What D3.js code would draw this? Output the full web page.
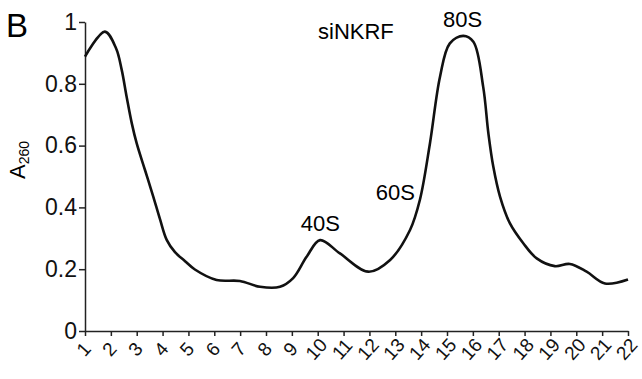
<!DOCTYPE html>
<html>
<head>
<meta charset="utf-8">
<script src="https://cdn.jsdelivr.net/npm/d3@7"></script>
<style>
  body { margin: 0; background: #fff; overflow: hidden; }
  svg { display: block; font-family: "Liberation Sans", Arial, sans-serif; }
  .axis path, .axis line { stroke: #222; stroke-width: 1.5; }
  .axis text { font-size: 23px; fill: #111; }
</style>
</head>
<body>
<div id="chart"></div>
<script>
// fraction number along the gradient and the A260 reading there
const fractions = [1, 1.77, 2.2, 2.42, 2.61, 2.81, 3.0, 3.32, 3.64, 3.9, 4.16, 4.48, 4.87, 5.25,
  6.09, 6.99, 7.77, 8.54, 9.05, 9.57, 10.09, 10.86, 11.96, 12.8, 13.57, 13.95, 14.34, 14.73,
  15.11, 15.63, 16.02, 16.4, 16.6, 16.79, 17.05, 17.43, 17.95, 18.47, 19.17, 19.75, 20.4, 21.11, 22];
const absorbance = [0.888, 0.969, 0.915, 0.845, 0.758, 0.672, 0.607, 0.521, 0.435, 0.362, 0.295, 0.255, 0.226, 0.199,
  0.165, 0.162, 0.143, 0.143, 0.171, 0.24, 0.294, 0.251, 0.192, 0.23, 0.327, 0.424, 0.607, 0.823,
  0.931, 0.955, 0.936, 0.79, 0.64, 0.532, 0.435, 0.349, 0.284, 0.235, 0.21, 0.217, 0.192, 0.154, 0.167];
const xTicks = d3.range(1, 23);
const yTicks = [0, 0.2, 0.4, 0.6, 0.8, 1];
const peaks = [{label: '40S', f: 10.1, v: 0.294, dy: 9}, {label: '60S', f: 13.0, v: 0.424, dy: 0}, {label: '80S', f: 15.6, v: 0.955, dy: 9}];

const width = 642, height = 379;
const margin = {top: 22, right: 14, bottom: 48, left: 85};
const innerWidth = width - margin.left - margin.right,
      innerHeight = height - margin.top - margin.bottom;

const svg = d3.select('#chart').append('svg')
    .attr('width', width)
    .attr('height', height);

const g = svg.append('g')
    .attr('transform', `translate(${margin.left},${margin.top})`);

const x = d3.scaleLinear().domain([1, 22]).range([0, innerWidth]);
const y = d3.scaleLinear().domain([0, 1]).range([innerHeight, 0]);

// y axis
g.append('g')
    .classed('axis', true)
    .call(d3.axisLeft(y).tickValues(yTicks).tickFormat(d3.format('')).tickSize(6).tickSizeOuter(0).tickPadding(2));

// x axis, labels turned and centred under their tick
const xAxis = g.append('g')
    .classed('axis', true)
    .attr('transform', `translate(0,${innerHeight})`)
    .call(d3.axisBottom(x).tickValues(xTicks).tickFormat(d3.format('d')).tickSize(5).tickSizeOuter(0));
xAxis.selectAll('text')
    .style('font-size', '19px')
    .attr('text-anchor', 'middle')
    .attr('dy', '0.35em')
    .attr('y', 0)
    .attr('transform', 'translate(-2,18) rotate(-48)');

// the profile
const line = d3.line()
    .x((d, i) => x(d))
    .y((d, i) => y(absorbance[i]))
    .curve(d3.curveCatmullRom.alpha(0.5));

g.append('path')
    .datum(fractions)
    .attr('d', line)
    .attr('fill', 'none')
    .attr('stroke', '#111')
    .attr('stroke-width', 2.6);

// peak names
g.selectAll('.peak')
    .data(peaks)
    .enter()
    .append('text')
    .classed('peak', true)
    .attr('x', d => x(d.f))
    .attr('y', d => y(d.v) - d.dy)
    .attr('text-anchor', 'middle')
    .style('font-size', '22px')
    .text(d => d.label);

svg.append('text')
    .attr('x', 318)
    .attr('y', 39)
    .style('font-size', '22px')
    .text('siNKRF');

svg.append('text')
    .attr('x', 6)
    .attr('y', 37)
    .style('font-size', '33px')
    .text('B');

// A260 label
const yl = svg.append('text')
    .attr('transform', 'translate(25,160) rotate(-90)')
    .attr('text-anchor', 'middle')
    .style('font-size', '22px');
yl.append('tspan').text('A');
yl.append('tspan').attr('dy', '0.3em').style('font-size', '14px').text('260');
</script>
</body>
</html>
